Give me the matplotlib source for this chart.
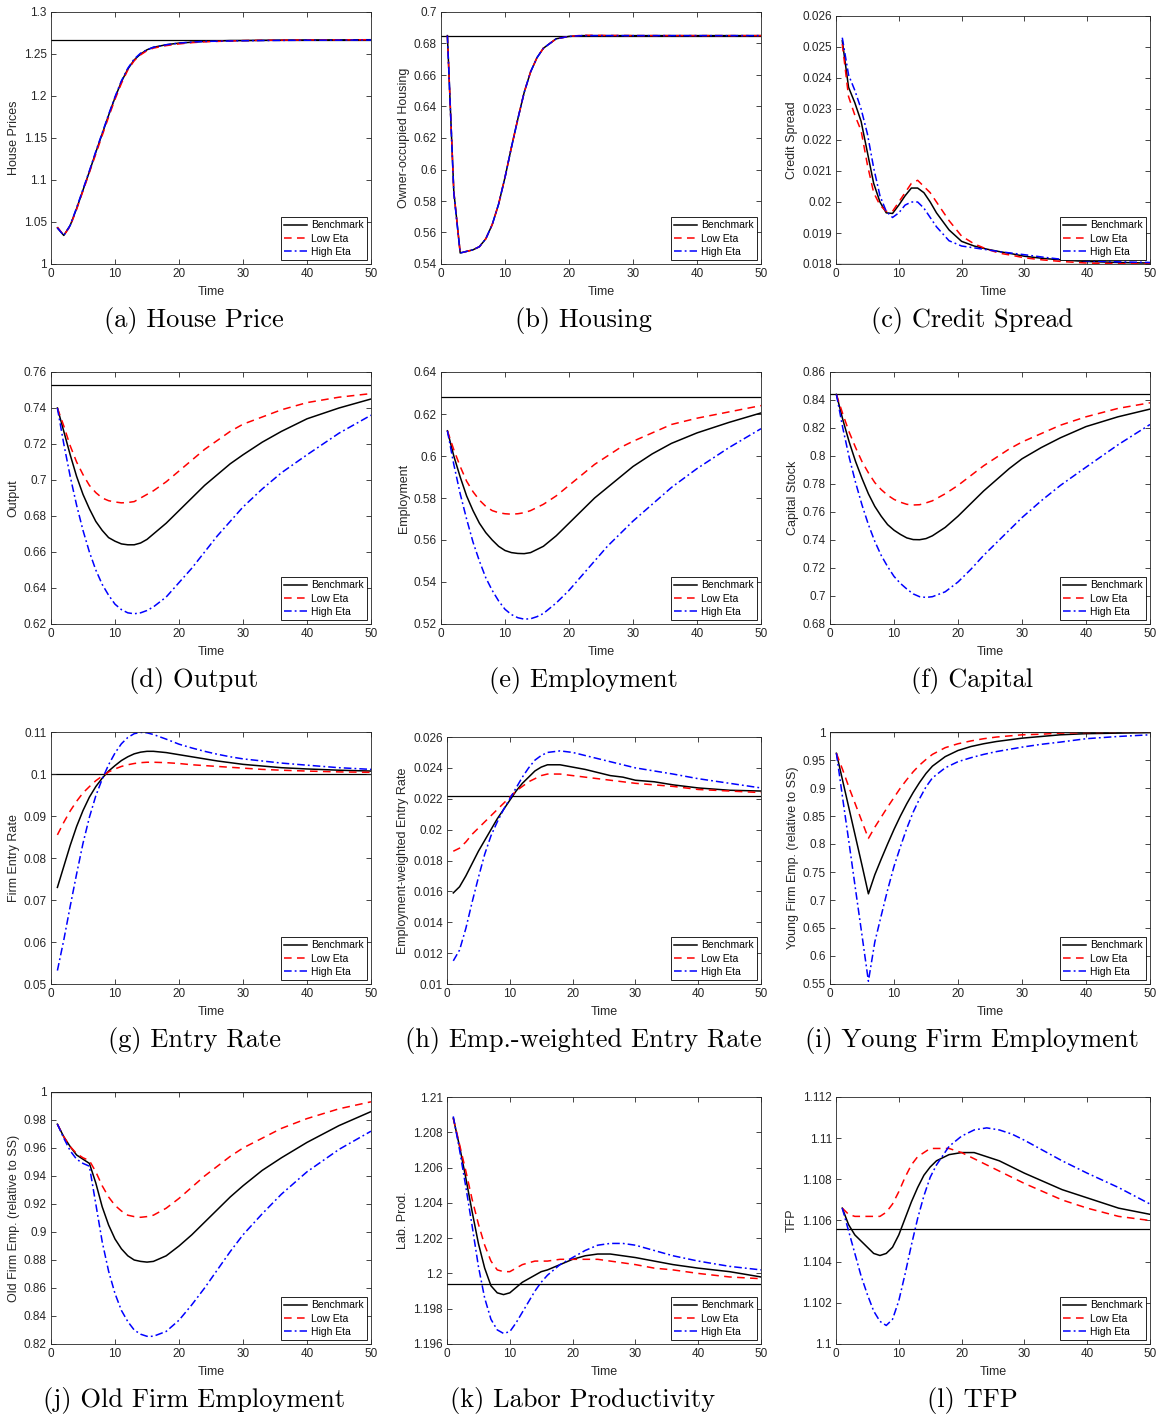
import numpy as np
import matplotlib
matplotlib.use('Agg')
import matplotlib.pyplot as plt
from matplotlib.ticker import FuncFormatter

plt.rcParams['font.family'] = ['Liberation Sans', 'DejaVu Sans']

# time grid (periods)
T = [1, 2, 3, 4, 5, 6, 7, 8, 9, 10, 11, 12, 13, 14, 15, 16, 18, 20, 22, 24, 26, 28, 30, 33, 36, 40, 45, 50]
series_names = ['Benchmark', 'Low Eta', 'High Eta']

# (a) house prices
house_bench = [1.043, 1.034, 1.046, 1.066, 1.088, 1.110, 1.133, 1.155, 1.177, 1.198, 1.217, 1.232, 1.243, 1.250, 1.255, 1.258, 1.261, 1.263, 1.264, 1.265, 1.2655, 1.266, 1.266, 1.2663, 1.2665, 1.2667, 1.2668, 1.267]
house_low = [1.044, 1.034, 1.045, 1.065, 1.087, 1.109, 1.131, 1.153, 1.175, 1.196, 1.215, 1.231, 1.242, 1.249, 1.254, 1.257, 1.260, 1.262, 1.2635, 1.2645, 1.265, 1.2655, 1.266, 1.2663, 1.2665, 1.2667, 1.2668, 1.267]
house_high = [1.043, 1.034, 1.046, 1.067, 1.089, 1.111, 1.134, 1.156, 1.178, 1.199, 1.218, 1.233, 1.244, 1.251, 1.255, 1.258, 1.261, 1.263, 1.2642, 1.265, 1.2652, 1.2655, 1.2658, 1.266, 1.2662, 1.2664, 1.2665, 1.2666]
house_ss = 1.267

# (b) owner-occupied housing
housing_bench = [0.685, 0.586, 0.547, 0.548, 0.549, 0.551, 0.556, 0.565, 0.578, 0.595, 0.614, 0.632, 0.649, 0.662, 0.671, 0.677, 0.683, 0.6845, 0.685, 0.685, 0.685, 0.685, 0.685, 0.685, 0.685, 0.685, 0.685, 0.685]
housing_low = [0.685, 0.586, 0.547, 0.548, 0.549, 0.551, 0.556, 0.565, 0.578, 0.595, 0.614, 0.632, 0.649, 0.662, 0.671, 0.677, 0.683, 0.6845, 0.6852, 0.6852, 0.6851, 0.6851, 0.685, 0.685, 0.685, 0.685, 0.685, 0.685]
housing_high = [0.685, 0.585, 0.547, 0.548, 0.549, 0.551, 0.556, 0.565, 0.578, 0.595, 0.614, 0.632, 0.649, 0.662, 0.671, 0.677, 0.683, 0.6845, 0.685, 0.685, 0.685, 0.685, 0.685, 0.685, 0.685, 0.685, 0.685, 0.685]
housing_ss = 0.685

# (c) credit spread
spread_bench = [0.0252, 0.0237, 0.0232, 0.0226, 0.0216, 0.0206, 0.0200, 0.01965, 0.01963, 0.0199, 0.0202, 0.02045, 0.02045, 0.0203, 0.0200, 0.01965, 0.0191, 0.01873, 0.01858, 0.01848, 0.01840, 0.01833, 0.01825, 0.01818, 0.01813, 0.01808, 0.01805, 0.01803]
spread_low = [0.0251, 0.0234, 0.0228, 0.0223, 0.0212, 0.0203, 0.0199, 0.0197, 0.0197, 0.0200, 0.0203, 0.0206, 0.0207, 0.0205, 0.0203, 0.0200, 0.0194, 0.0189, 0.01865, 0.01848, 0.01835, 0.01828, 0.01820, 0.01813, 0.01808, 0.01803, 0.01801, 0.01800]
spread_high = [0.0253, 0.0241, 0.0236, 0.0230, 0.0222, 0.0211, 0.0202, 0.0197, 0.01950, 0.01965, 0.0199, 0.0200, 0.0200, 0.0198, 0.0195, 0.0192, 0.01875, 0.01858, 0.01852, 0.01846, 0.01840, 0.01835, 0.01830, 0.01822, 0.01815, 0.01810, 0.01807, 0.01805]
spread_ss = 0.01801

# (d) output
output_bench = [0.740, 0.727, 0.714, 0.702, 0.692, 0.684, 0.677, 0.672, 0.668, 0.666, 0.6645, 0.664, 0.664, 0.665, 0.667, 0.670, 0.676, 0.683, 0.690, 0.697, 0.703, 0.709, 0.714, 0.721, 0.727, 0.734, 0.740, 0.745]
output_low = [0.740, 0.730, 0.719, 0.710, 0.703, 0.697, 0.693, 0.690, 0.6885, 0.6878, 0.6873, 0.6875, 0.688, 0.690, 0.692, 0.694, 0.699, 0.705, 0.711, 0.717, 0.722, 0.727, 0.731, 0.735, 0.739, 0.743, 0.746, 0.748]
output_high = [0.740, 0.720, 0.702, 0.686, 0.672, 0.660, 0.650, 0.642, 0.636, 0.631, 0.628, 0.6262, 0.6257, 0.6262, 0.6275, 0.6295, 0.635, 0.643, 0.651, 0.660, 0.669, 0.677, 0.685, 0.695, 0.704, 0.714, 0.726, 0.736]
output_ss = 0.753

# (e) employment
emp_bench = [0.612, 0.600, 0.590, 0.581, 0.574, 0.568, 0.5635, 0.560, 0.557, 0.555, 0.554, 0.5536, 0.5535, 0.554, 0.5555, 0.557, 0.562, 0.568, 0.574, 0.580, 0.585, 0.590, 0.595, 0.601, 0.606, 0.611, 0.616, 0.6205]
emp_low = [0.612, 0.603, 0.595, 0.588, 0.583, 0.579, 0.576, 0.574, 0.573, 0.5725, 0.5723, 0.5725, 0.573, 0.574, 0.5755, 0.577, 0.581, 0.586, 0.591, 0.596, 0.600, 0.604, 0.607, 0.611, 0.615, 0.618, 0.621, 0.624]
emp_high = [0.612, 0.596, 0.582, 0.570, 0.559, 0.550, 0.542, 0.536, 0.531, 0.527, 0.5245, 0.523, 0.5223, 0.5225, 0.5235, 0.525, 0.530, 0.536, 0.543, 0.550, 0.557, 0.563, 0.569, 0.577, 0.585, 0.594, 0.604, 0.613]
emp_ss = 0.628

# (f) capital stock
cap_bench = [0.844, 0.826, 0.810, 0.796, 0.784, 0.773, 0.764, 0.757, 0.751, 0.747, 0.744, 0.7415, 0.7403, 0.7402, 0.741, 0.743, 0.749, 0.757, 0.766, 0.775, 0.783, 0.791, 0.798, 0.806, 0.813, 0.821, 0.828, 0.8335]
cap_low = [0.844, 0.830, 0.817, 0.806, 0.796, 0.788, 0.781, 0.776, 0.772, 0.769, 0.767, 0.7655, 0.765, 0.7652, 0.7665, 0.768, 0.773, 0.779, 0.786, 0.793, 0.799, 0.805, 0.810, 0.816, 0.822, 0.828, 0.834, 0.838]
cap_high = [0.844, 0.820, 0.799, 0.781, 0.765, 0.751, 0.739, 0.729, 0.721, 0.714, 0.709, 0.705, 0.7015, 0.6995, 0.699, 0.6995, 0.703, 0.710, 0.719, 0.729, 0.738, 0.747, 0.756, 0.768, 0.779, 0.792, 0.808, 0.8225]
cap_ss = 0.844

# (g) firm entry rate
entry_bench = [0.073, 0.078, 0.083, 0.0875, 0.0913, 0.0945, 0.0970, 0.0990, 0.1007, 0.1020, 0.1032, 0.1041, 0.1048, 0.1052, 0.1054, 0.1054, 0.1051, 0.1046, 0.1041, 0.1036, 0.1031, 0.1027, 0.1023, 0.1019, 0.1015, 0.1012, 0.1009, 0.1007]
entry_low = [0.0855, 0.0885, 0.0912, 0.0935, 0.0955, 0.0970, 0.0984, 0.0995, 0.1005, 0.1012, 0.1018, 0.1022, 0.1025, 0.1027, 0.1028, 0.1028, 0.1027, 0.1025, 0.1022, 0.1020, 0.1018, 0.1016, 0.1014, 0.1011, 0.1009, 0.1007, 0.1005, 0.1004]
entry_high = [0.0532, 0.0605, 0.0685, 0.0762, 0.0835, 0.0897, 0.0948, 0.0988, 0.1022, 0.1050, 0.1072, 0.1087, 0.1096, 0.1099, 0.1098, 0.1094, 0.1083, 0.1071, 0.1062, 0.1054, 0.1047, 0.1041, 0.1036, 0.1031, 0.1026, 0.1021, 0.1015, 0.1011]
entry_ss = 0.1

# (h) employment-weighted entry rate
ewentry_bench = [0.0159, 0.0163, 0.0170, 0.0178, 0.0186, 0.0193, 0.0200, 0.0207, 0.0213, 0.0219, 0.0225, 0.0230, 0.0234, 0.0238, 0.02405, 0.0242, 0.0242, 0.02405, 0.0239, 0.0237, 0.0235, 0.0234, 0.0232, 0.0231, 0.0229, 0.0227, 0.02255, 0.0225]
ewentry_low = [0.0186, 0.0188, 0.0192, 0.0197, 0.0201, 0.0205, 0.0209, 0.0213, 0.0217, 0.0221, 0.0225, 0.0228, 0.0231, 0.0233, 0.0235, 0.0236, 0.0236, 0.0235, 0.0234, 0.0233, 0.0232, 0.0231, 0.0230, 0.0229, 0.0228, 0.0226, 0.0225, 0.0224]
ewentry_high = [0.0115, 0.0122, 0.0136, 0.0153, 0.0169, 0.0184, 0.0196, 0.0205, 0.0213, 0.0220, 0.0227, 0.0234, 0.0240, 0.0245, 0.0248, 0.0250, 0.0251, 0.0250, 0.0248, 0.0246, 0.0244, 0.0242, 0.0240, 0.0238, 0.0236, 0.0233, 0.0230, 0.0227]
ewentry_ss = 0.0222

# (i) young firm employment
young_bench = [0.962, 0.912, 0.862, 0.812, 0.762, 0.711, 0.745, 0.773, 0.800, 0.826, 0.850, 0.872, 0.892, 0.910, 0.926, 0.939, 0.956, 0.967, 0.974, 0.979, 0.983, 0.986, 0.989, 0.992, 0.995, 0.997, 0.998, 0.999]
young_low = [0.962, 0.932, 0.900, 0.870, 0.840, 0.810, 0.830, 0.848, 0.866, 0.883, 0.900, 0.915, 0.929, 0.941, 0.951, 0.960, 0.972, 0.979, 0.984, 0.988, 0.991, 0.993, 0.995, 0.996, 0.998, 0.999, 0.9995, 1.0]
young_high = [0.962, 0.880, 0.800, 0.718, 0.637, 0.555, 0.625, 0.672, 0.718, 0.760, 0.795, 0.828, 0.857, 0.881, 0.902, 0.918, 0.936, 0.947, 0.954, 0.960, 0.965, 0.969, 0.973, 0.978, 0.982, 0.988, 0.992, 0.995]
young_ss = 1.0

# (j) old firm employment
old_bench = [0.977, 0.968, 0.961, 0.955, 0.952, 0.949, 0.935, 0.918, 0.905, 0.895, 0.888, 0.883, 0.880, 0.879, 0.8785, 0.879, 0.883, 0.890, 0.898, 0.907, 0.916, 0.925, 0.933, 0.944, 0.953, 0.964, 0.976, 0.986]
old_low = [0.977, 0.968, 0.961, 0.956, 0.953, 0.951, 0.943, 0.933, 0.925, 0.919, 0.915, 0.912, 0.911, 0.9105, 0.911, 0.912, 0.917, 0.924, 0.932, 0.940, 0.947, 0.954, 0.960, 0.967, 0.974, 0.981, 0.988, 0.993]
old_high = [0.977, 0.967, 0.958, 0.952, 0.949, 0.947, 0.920, 0.893, 0.872, 0.856, 0.844, 0.836, 0.830, 0.827, 0.8255, 0.8255, 0.829, 0.837, 0.848, 0.860, 0.873, 0.886, 0.898, 0.913, 0.927, 0.943, 0.959, 0.972]
old_ss = 1.0

# (k) labor productivity
lprod_bench = [1.2088, 1.2072, 1.2054, 1.2035, 1.2017, 1.2003, 1.1993, 1.1989, 1.1988, 1.1989, 1.1992, 1.1995, 1.1997, 1.1999, 1.2001, 1.2002, 1.2005, 1.2008, 1.2010, 1.2011, 1.2011, 1.2010, 1.2009, 1.2007, 1.2005, 1.2003, 1.2001, 1.1998]
lprod_low = [1.2088, 1.2073, 1.2058, 1.2042, 1.2028, 1.2016, 1.2007, 1.2002, 1.2001, 1.2001, 1.2003, 1.2005, 1.2006, 1.2007, 1.2007, 1.2007, 1.2008, 1.2008, 1.2008, 1.2008, 1.2007, 1.2006, 1.2005, 1.2003, 1.2002, 1.2000, 1.1998, 1.1997]
lprod_high = [1.2089, 1.2070, 1.2049, 1.2027, 1.2004, 1.1986, 1.1974, 1.1968, 1.1966, 1.1967, 1.1972, 1.1978, 1.1984, 1.1990, 1.1995, 1.1999, 1.2005, 1.2009, 1.2013, 1.2016, 1.2017, 1.2017, 1.2016, 1.2013, 1.2010, 1.2007, 1.2004, 1.2002]
lprod_ss = 1.1994

# (l) TFP
tfp_bench = [1.1066, 1.1058, 1.1053, 1.1050, 1.1047, 1.1044, 1.1043, 1.1044, 1.1047, 1.1053, 1.1061, 1.1069, 1.1076, 1.1082, 1.1086, 1.1089, 1.1092, 1.1093, 1.1093, 1.1091, 1.1089, 1.1086, 1.1083, 1.1079, 1.1075, 1.1071, 1.1066, 1.1063]
tfp_low = [1.1066, 1.1063, 1.1062, 1.1062, 1.1062, 1.1062, 1.1062, 1.1064, 1.1068, 1.1074, 1.1081, 1.1087, 1.1091, 1.1093, 1.1095, 1.1095, 1.1095, 1.1093, 1.1090, 1.1087, 1.1084, 1.1081, 1.1078, 1.1074, 1.1070, 1.1066, 1.1062, 1.1060]
tfp_high = [1.1066, 1.1055, 1.1044, 1.1033, 1.1024, 1.1016, 1.1011, 1.1009, 1.1012, 1.1021, 1.1034, 1.1048, 1.1061, 1.1072, 1.1081, 1.1087, 1.1096, 1.1101, 1.1104, 1.1105, 1.1104, 1.1102, 1.1099, 1.1094, 1.1089, 1.1083, 1.1076, 1.1068]
tfp_ss = 1.1056

# panel: (caption, ylabel, series, steady state, ylim, ytick step, box in pixels l,t,r,b)
panels = [
    ('(a) House Price', 'House Prices', (house_bench, house_low, house_high), house_ss, (1, 1.3), 0.05, (51, 12, 371, 264)),
    ('(b) Housing', 'Owner-occupied Housing', (housing_bench, housing_low, housing_high), housing_ss, (0.54, 0.7), 0.02, (441, 12, 761, 264)),
    ('(c) Credit Spread', 'Credit Spread', (spread_bench, spread_low, spread_high), spread_ss, (0.018, 0.026), 0.001, (836, 16, 1150, 264)),
    ('(d) Output', 'Output', (output_bench, output_low, output_high), output_ss, (0.62, 0.76), 0.02, (51, 372, 371, 624)),
    ('(e) Employment', 'Employment', (emp_bench, emp_low, emp_high), emp_ss, (0.52, 0.64), 0.02, (441, 372, 761, 624)),
    ('(f) Capital', 'Capital Stock', (cap_bench, cap_low, cap_high), cap_ss, (0.68, 0.86), 0.02, (830, 372, 1150, 624)),
    ('(g) Entry Rate', 'Firm Entry Rate', (entry_bench, entry_low, entry_high), entry_ss, (0.05, 0.11), 0.01, (51, 732, 371, 984)),
    ('(h) Emp.-weighted Entry Rate', 'Employment-weighted Entry Rate', (ewentry_bench, ewentry_low, ewentry_high), ewentry_ss, (0.01, 0.026), 0.002, (447, 737, 761, 984)),
    ('(i) Young Firm Employment', 'Young Firm Emp. (relative to SS)', (young_bench, young_low, young_high), young_ss, (0.55, 1.0), 0.05, (830, 732, 1150, 984)),
    ('(j) Old Firm Employment', 'Old Firm Emp. (relative to SS)', (old_bench, old_low, old_high), old_ss, (0.82, 1.0), 0.02, (51, 1092, 371, 1344)),
    ('(k) Labor Productivity', 'Lab. Prod.', (lprod_bench, lprod_low, lprod_high), lprod_ss, (1.196, 1.21), 0.002, (447, 1097, 761, 1344)),
    ('(l) TFP', 'TFP', (tfp_bench, tfp_low, tfp_high), tfp_ss, (1.1, 1.112), 0.002, (836, 1097, 1150, 1344)),
]

W, H = 1161, 1416
fig = plt.figure(figsize=(W / 100, H / 100), dpi=100)

styles = [dict(color='black', linestyle='-', lw=1.1),
          dict(color='red', dashes=(5, 3.5), lw=1.1),
          dict(color='blue', dashes=(5, 2, 1.2, 2), lw=1.1)]
caption_x = [194, 583, 972]
caption_y = [320, 680, 1040, 1400]
gray = '#262626'
fmt = FuncFormatter(lambda v, p: f'{round(v, 6):g}')

for n, (cap, ylab, data, ss, ylim, step, box) in enumerate(panels):
    l, t, r, b = box
    ax = fig.add_axes([l / W, 1 - b / H, (r - l) / W, (b - t) / H])
    for vals, name, st in zip(data, series_names, styles):
        ax.plot(T, vals, label=name, **st)
    ax.axhline(ss, color='black', lw=0.9, zorder=1)
    ax.set_xlim(0, 50)
    ax.set_ylim(*ylim)
    ax.set_xticks(range(0, 51, 10))
    ax.set_yticks(np.round(np.arange(ylim[0], ylim[1] + step / 2, step), 6))
    ax.yaxis.set_major_formatter(fmt)
    ax.tick_params(direction='in', top=True, right=True, length=3.5, width=0.6,
                   labelsize=8.5, colors=gray, labelcolor=gray, pad=3)
    for s in ax.spines.values():
        s.set_color(gray)
        s.set_linewidth(0.6)
    ax.set_xlabel('Time', fontsize=9, color=gray, labelpad=4)
    ax.set_ylabel(ylab, fontsize=9, color=gray, labelpad=3)
    leg = ax.legend(loc='lower right', fontsize=7.5, frameon=True, fancybox=False,
                    handlelength=2.2, handletextpad=0.4, labelspacing=0.3,
                    borderpad=0.3, borderaxespad=0.4)
    leg.get_frame().set_edgecolor('black')
    leg.get_frame().set_linewidth(0.6)
    leg.get_frame().set_alpha(1)
    fig.text(caption_x[n % 3] / W, 1 - caption_y[n // 3] / H, cap,
             fontfamily='cmr10', fontsize=19, ha='center', va='center')

fig.savefig('out.png', dpi=100)
